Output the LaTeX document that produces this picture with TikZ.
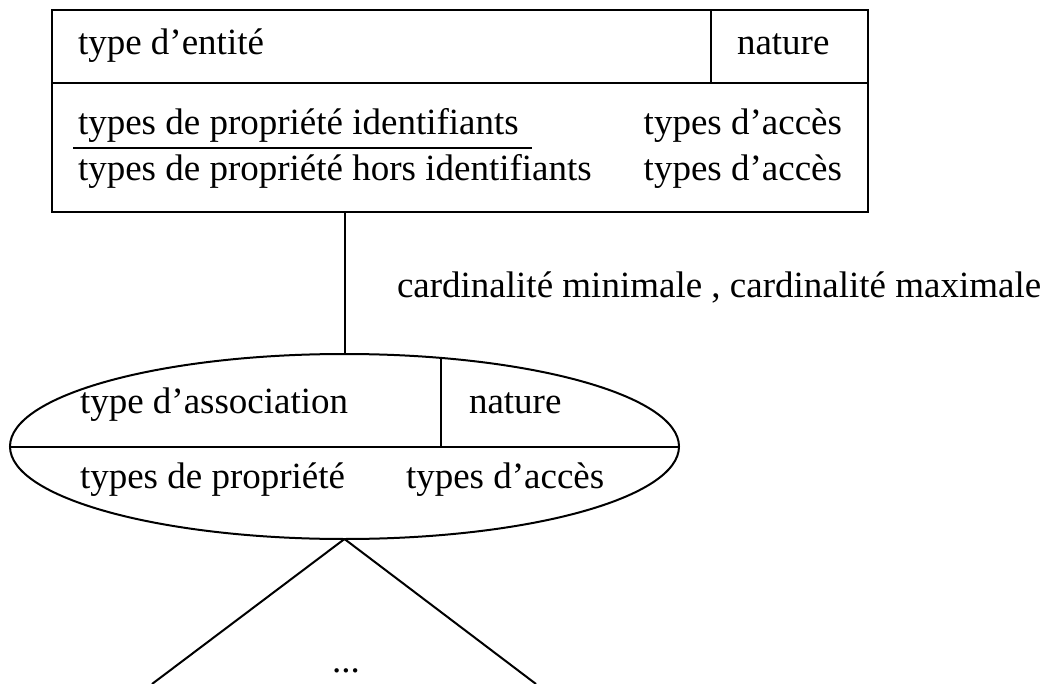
\documentclass[tikz,border=0pt]{standalone}
\usepackage{fontspec}
\setmainfont{Liberation Serif}
\usetikzlibrary{shapes.geometric}
\begin{document}
\begin{tikzpicture}[x=0.5pt,y=-0.5pt,
  every node/.style={font=\fontsize{18.5pt}{22pt}\selectfont, inner sep=0pt, outer sep=0pt},
  line/.style={line width=1pt, black},
  lbl/.style={anchor=base west},
  lblr/.style={anchor=base east}]
\useasboundingbox (0,0) rectangle (1044,684);
% entity box
\node[line, draw, rectangle, minimum width=408pt, minimum height=101pt] (entity) at (460,111) {};
\coordinate (ediv1) at (52,83);
\coordinate (ediv2) at (868,83);
\draw[line] (ediv1) -- (ediv2);
\coordinate (evtop) at (711,10);
\coordinate (evbot) at (711,83);
\draw[line] (evtop) -- (evbot);
\node[lbl] (tent) at (78,55) {type d’entité};
\node[lbl] (nat1) at (737,55) {nature};
\node[lbl] (pid) at (78,135) {types de propriété identifiants};
\node[lbl] (phid) at (78,181) {types de propriété hors identifiants};
\node[lblr] (acc1) at (842,135) {types d’accès};
\node[lblr] (acc2) at (842,181) {types d’accès};
\coordinate (ul1) at (73,148);
\coordinate (ul2) at (532,148);
\draw[line] (ul1) -- (ul2);
% association ellipse
\node[line, draw, ellipse, minimum width=334.5pt, minimum height=92.5pt] (assoc) at (344.5,446.5) {};
\draw[line] (assoc.west) -- (assoc.east);
\coordinate (avtop) at (441,358);
\coordinate (avbot) at (441,446.5);
\draw[line] (avtop) -- (avbot);
\node[lbl] (tass) at (80,413) {type d’association};
\node[lbl] (nat2) at (469,413) {nature};
\node[lbl] (tprop) at (80,488) {types de propriété};
\node[lbl] (acc3) at (406,488) {types d’accès};
% connector entity - association
\coordinate (c1) at (344.5,212);
\draw[line] (c1) -- (assoc.north);
\node[lbl] (card) at (397,298) {cardinalité minimale , cardinalité maximale};
% lower branches
\coordinate (bl) at (152,684);
\coordinate (br) at (536,684);
\draw[line] (assoc.south) -- (bl);
\draw[line] (assoc.south) -- (br);
\node[anchor=base] (dots) at (346,672) {...};
\end{tikzpicture}
\end{document}
